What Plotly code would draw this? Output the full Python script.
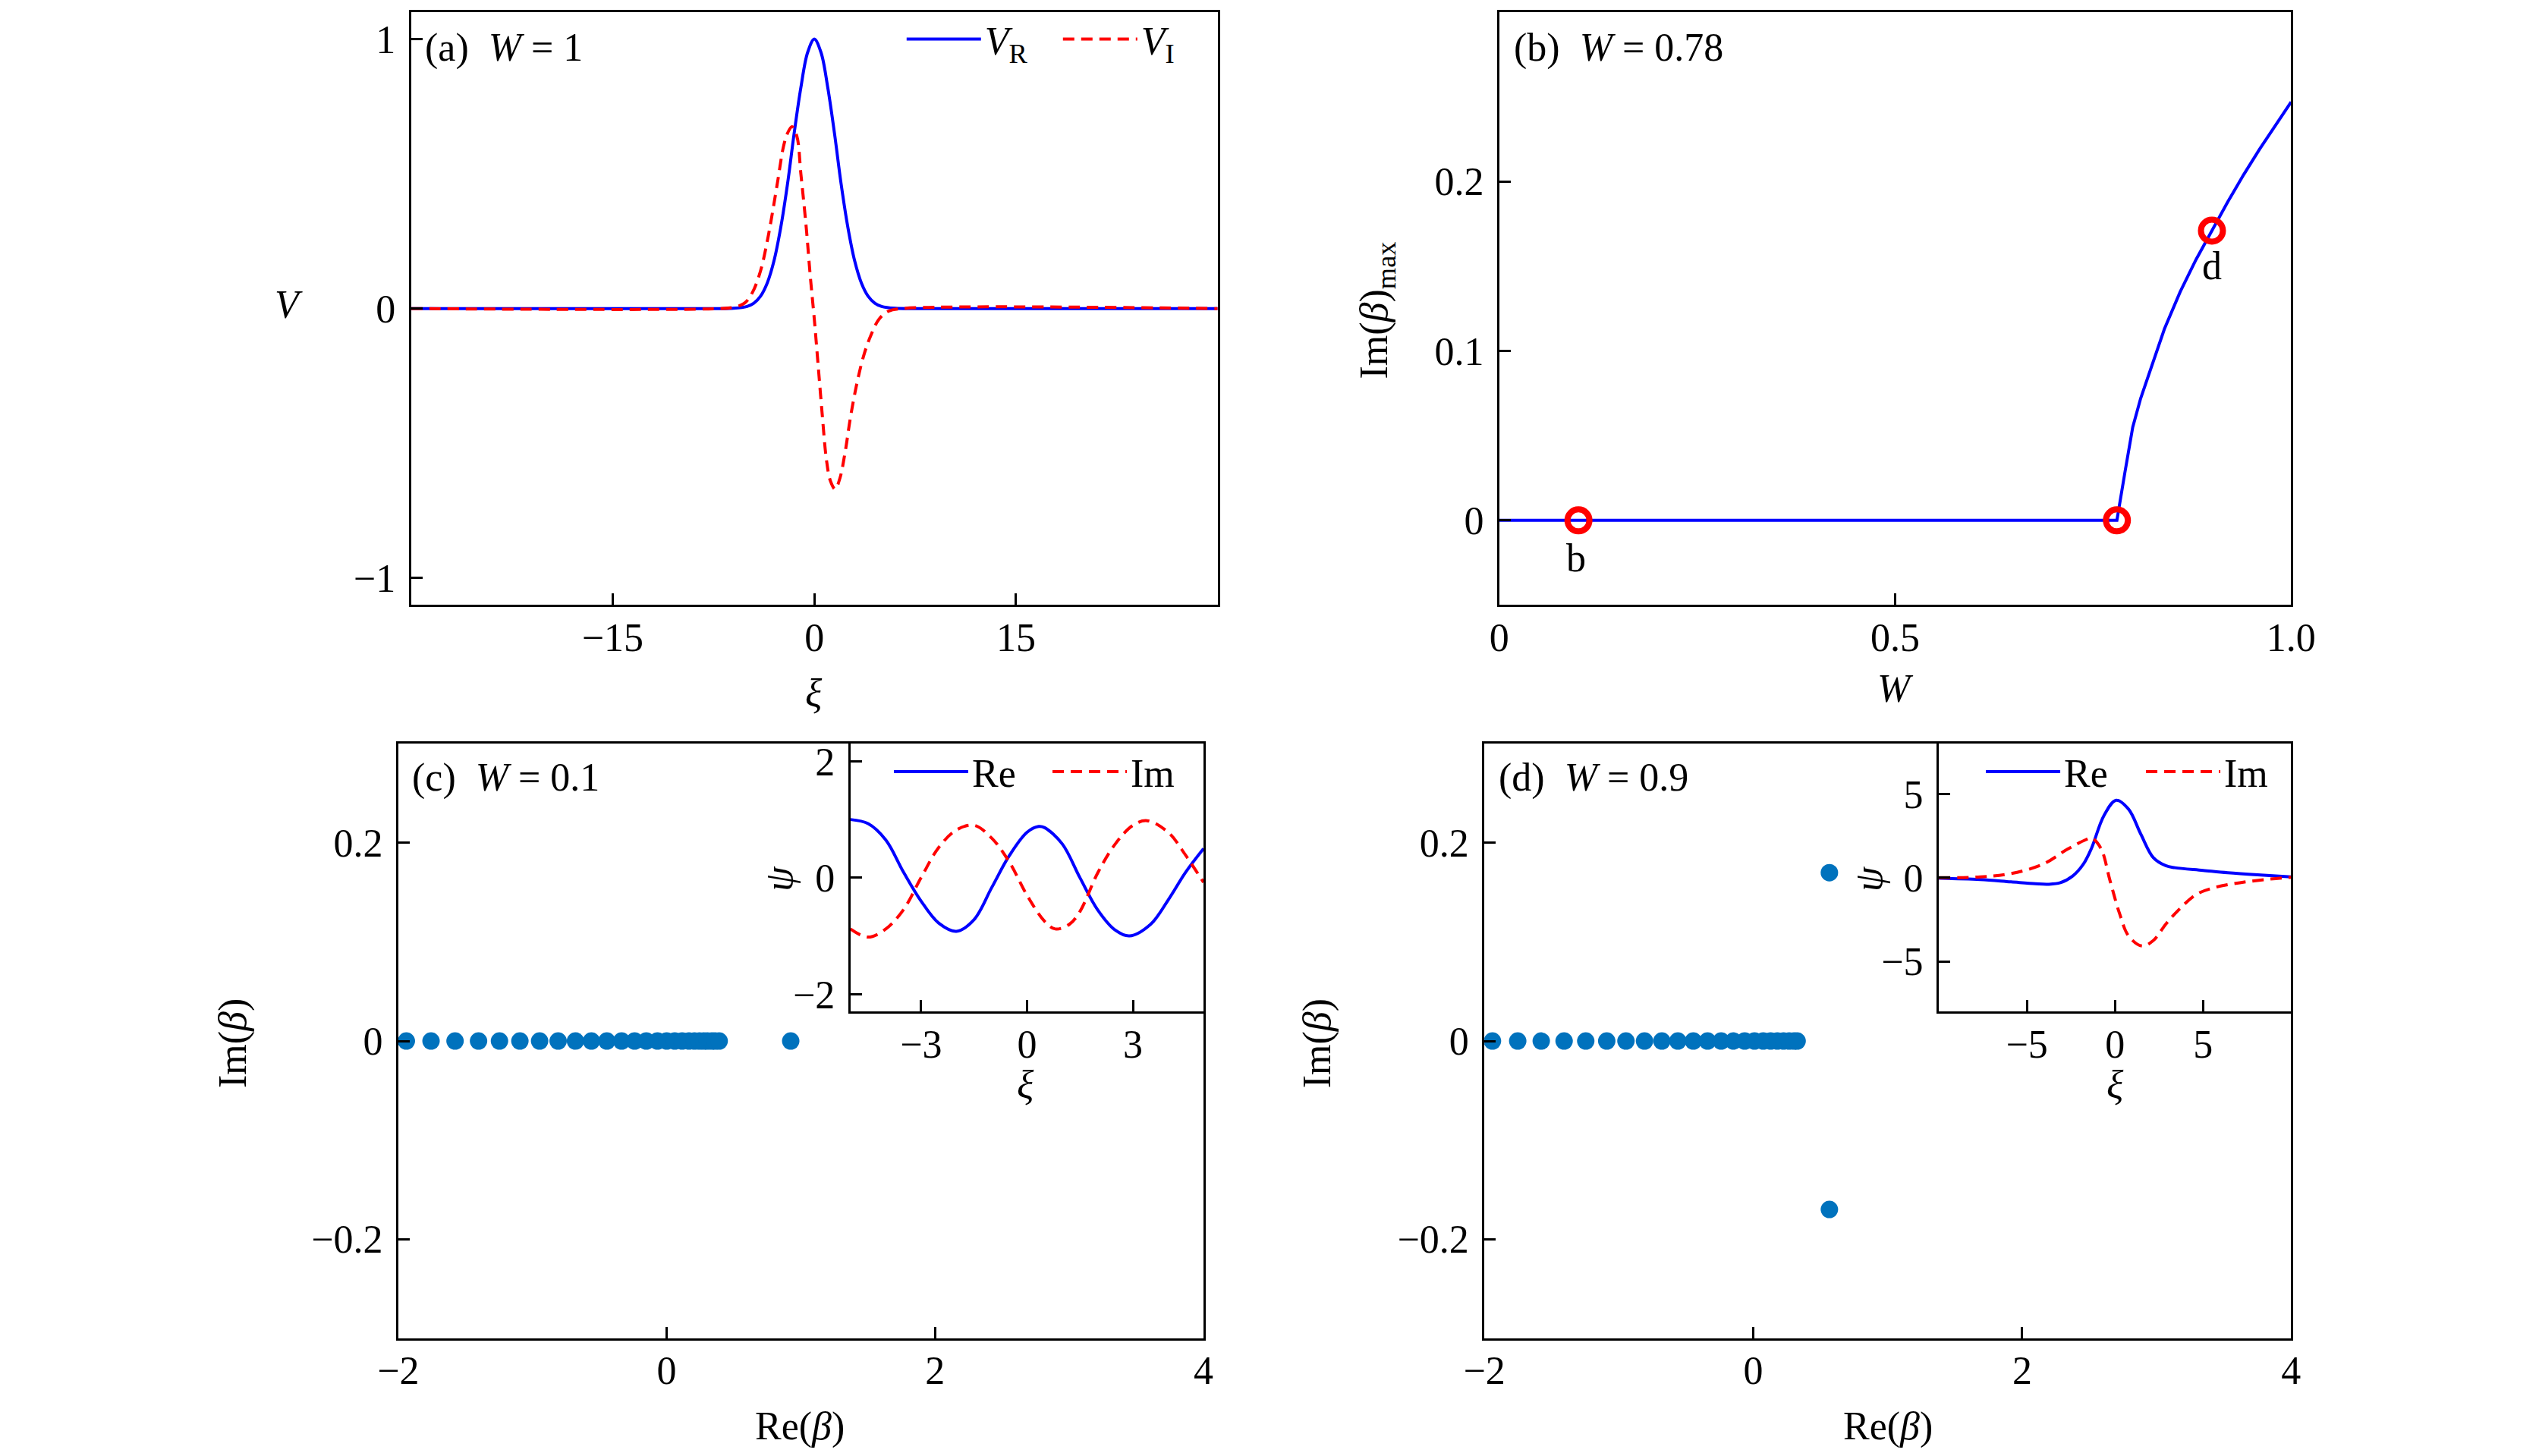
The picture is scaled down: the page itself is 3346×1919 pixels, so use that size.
import plotly.graph_objects as go

# the page body keeps its 8 px margin, so the figure is a little smaller than the window
OFF = 8
W_PX, H_PX = 3346 - 2 * OFF, 1919 - 2 * OFF
FONT = "Liberation Serif"
FS = 52
BLUE = "#0000FF"
RED = "#FF0000"
DOT = "#0072BD"
NB = "\u00a0"
LW = 4

# ---- panel (a): potential V(xi), W = 1
xi_vr = [-30, -8, -6, -5, -4.5, -4, -3.5, -3, -2.5, -2, -1.5, -1, -0.5, 0,
         0.5, 1, 1.5, 2, 2.5, 3, 3.5, 4, 4.5, 5, 6, 8, 30]
v_r = [0, 0, 0.001, 0.008, 0.02, 0.046, 0.095, 0.177, 0.30, 0.46, 0.65, 0.82, 0.95, 1.0,
       0.95, 0.82, 0.65, 0.46, 0.30, 0.177, 0.095, 0.046, 0.02, 0.008, 0.001, 0, 0]
xi_vi = [-30, -7, -6, -5.2, -4.6, -4.0, -3.5, -3.1, -2.7, -2.3, -2.0, -1.66, -1.3, -1.0,
         -0.6, -0.3, 0, 0.3, 0.6, 0.9, 1.2, 1.55, 1.9, 2.3, 2.7, 3.2, 3.7, 4.2, 4.8,
         5.5, 6.5, 30]
v_i = [0, 0, 0.005, 0.02, 0.06, 0.14, 0.25, 0.36, 0.48, 0.60, 0.65, 0.675, 0.64, 0.50,
       0.30, 0.12, -0.04, -0.22, -0.40, -0.56, -0.64, -0.67, -0.63, -0.53, -0.40, -0.27,
       -0.17, -0.10, -0.04, -0.01, 0, 0]

# ---- panel (b): Im(beta)_max versus W
w_b = [0, 0.1, 0.2, 0.3, 0.4, 0.5, 0.6, 0.7, 0.78, 0.79, 0.80, 0.81, 0.82, 0.84, 0.86,
       0.88, 0.90, 0.92, 0.94, 0.96, 0.98, 1.0]
im_b = [0, 0, 0, 0, 0, 0.0003, 0.0003, 0, 0, 0.028, 0.055, 0.072, 0.086, 0.113, 0.135,
        0.154, 0.171, 0.188, 0.204, 0.219, 0.233, 0.247]
w_mark = [0.1, 0.78, 0.9]
im_mark = [0, 0, 0.171]

# ---- panel (c): spectrum, W = 0.1
re_c = [-1.94, -1.756, -1.577, -1.402, -1.246, -1.094, -0.947, -0.809, -0.680, -0.561,
        -0.446, -0.336, -0.239, -0.152, -0.069, 0.0, 0.06, 0.115, 0.166, 0.207, 0.244,
        0.276, 0.303, 0.336, 0.36, 0.391, 0.924]
im_c = [0] * len(re_c)

# ---- panel (d): spectrum, W = 0.9
re_d = [-1.94, -1.752, -1.577, -1.407, -1.246, -1.090, -0.947, -0.809, -0.680, -0.561,
        -0.446, -0.340, -0.239, -0.147, -0.064, 0.009, 0.074, 0.129, 0.179, 0.225,
        0.267, 0.303, 0.326, 0.566, 0.566]
im_d = [0] * 23 + [0.170, -0.170]

# ---- inset (c): eigenmode psi
xi_c_re = [-5, -4.5, -4, -3.5, -3, -2.5, -2, -1.5, -1, -0.5, 0, 0.33, 0.5, 1, 1.5, 2,
           2.5, 2.9, 3.5, 4, 4.5, 5]
psi_c_re = [1.00, 0.93, 0.65, 0.10, -0.40, -0.78, -0.92, -0.72, -0.17, 0.38, 0.78, 0.88,
            0.86, 0.58, 0.0, -0.55, -0.90, -1.00, -0.80, -0.38, 0.10, 0.50]
xi_c_im = [-5, -4.5, -4, -3.5, -3, -2.5, -2, -1.5, -1, -0.5, 0, 0.5, 0.8, 1.2, 1.5, 2,
           2.5, 3, 3.4, 4, 4.5, 5]
psi_c_im = [-0.88, -1.02, -0.88, -0.55, 0.0, 0.52, 0.82, 0.90, 0.68, 0.27, -0.30, -0.75,
            -0.88, -0.80, -0.58, 0.08, 0.58, 0.90, 0.98, 0.78, 0.38, -0.08]

# ---- inset (d): eigenmode psi
xi_d_re = [-10, -7.65, -5.9, -4.5, -3.8, -3.1, -2.4, -1.8, -1.33, -0.63, 0.07, 0.77,
           1.47, 2.18, 2.88, 3.4, 5, 6.4, 8.1, 10]
psi_d_re = [-0.03, -0.11, -0.25, -0.36, -0.39, -0.30, 0.1, 0.8, 1.76, 3.7, 4.63, 4.1,
            2.6, 1.2, 0.72, 0.6, 0.44, 0.3, 0.17, 0.05]
xi_d_im = [-10, -7.65, -5.9, -4.1, -2.7, -1.68, -1.33, -0.8, -0.28, 0.25, 0.77, 1.54,
           2.18, 2.88, 3.58, 4.63, 5.68, 7.09, 8.5, 10]
psi_d_im = [0, 0.05, 0.25, 0.8, 1.7, 2.26, 2.37, 1.76, -0.17, -2.1, -3.47, -4.08, -3.75,
            -2.78, -1.96, -0.99, -0.58, -0.30, -0.11, 0.03]


def pxx(x):
    return (x - OFF) / W_PX


def pxy(y):
    return 1 - (y - OFF) / H_PX


def axis(dom, rng, vals, text, anchor, standoff):
    return dict(domain=dom, range=rng, tickvals=vals, ticktext=text, anchor=anchor,
                ticks="inside", ticklen=15, tickwidth=3, tickcolor="black",
                showline=True, linewidth=3, linecolor="black", mirror=True,
                showgrid=False, zeroline=False, ticklabelstandoff=standoff,
                tickfont=dict(family=FONT, size=FS, color="black"))


def xdom(x0, x1):
    return [pxx(x0), pxx(x1)]


def ydom(y_top, y_bot):
    return [pxy(y_bot), pxy(y_top)]


M = "\u2212"
fig = go.Figure()

line_kw = dict(mode="lines", line_shape="spline")
dash = "15px,9px"
fig.add_trace(go.Scatter(x=xi_vr, y=v_r, name="<i>V</i><sub>R</sub>", xaxis="x", yaxis="y",
                         line=dict(color=BLUE, width=LW), legend="legend", **line_kw))
fig.add_trace(go.Scatter(x=xi_vi, y=v_i, name="<i>V</i><sub>I</sub>", xaxis="x", yaxis="y",
                         line=dict(color=RED, width=LW, dash=dash), legend="legend",
                         **line_kw))

fig.add_trace(go.Scatter(x=w_b, y=im_b, mode="lines", xaxis="x2", yaxis="y2", showlegend=False,
                         line=dict(color=BLUE, width=LW)))
fig.add_trace(go.Scatter(x=w_mark, y=im_mark, mode="markers", xaxis="x2", yaxis="y2",
                         showlegend=False,
                         marker=dict(symbol="circle-open", size=29, color=RED,
                                     line=dict(width=8, color=RED))))

fig.add_trace(go.Scatter(x=re_c, y=im_c, mode="markers", xaxis="x3", yaxis="y3",
                         showlegend=False, marker=dict(size=23, color=DOT)))
fig.add_trace(go.Scatter(x=re_d, y=im_d, mode="markers", xaxis="x4", yaxis="y4",
                         showlegend=False, marker=dict(size=23, color=DOT)))

fig.add_trace(go.Scatter(x=xi_c_re, y=psi_c_re, name="Re", xaxis="x5", yaxis="y5",
                         line=dict(color=BLUE, width=LW), legend="legend2", **line_kw))
fig.add_trace(go.Scatter(x=xi_c_im, y=psi_c_im, name="Im", xaxis="x5", yaxis="y5",
                         line=dict(color=RED, width=LW, dash=dash), legend="legend2",
                         **line_kw))
fig.add_trace(go.Scatter(x=xi_d_re, y=psi_d_re, name="Re", xaxis="x6", yaxis="y6",
                         line=dict(color=BLUE, width=LW), legend="legend3", **line_kw))
fig.add_trace(go.Scatter(x=xi_d_im, y=psi_d_im, name="Im", xaxis="x6", yaxis="y6",
                         line=dict(color=RED, width=LW, dash=dash), legend="legend3",
                         **line_kw))

SX, SY = -5, 7
layout = dict(
    xaxis=axis(xdom(523, 1606), [-30, 30], [-15, 0, 15], [M + "15", "0", "15"], "y", SX),
    yaxis=axis(ydom(11, 797), [-1.1, 1.1], [-1, 0, 1], [M + "1", "0", "1"], "x", SY),
    xaxis2=axis(xdom(1984, 3047), [0, 1], [0, 0.5, 1], ["0", "0.5", "1.0"], "y2", SX),
    yaxis2=axis(ydom(11, 797), [-0.05, 0.3], [0, 0.1, 0.2], ["0", "0.1", "0.2"], "x2", SY),
    xaxis3=axis(xdom(506, 1587), [-2, 4], [-2, 0, 2, 4], [M + "2", "0", "2", "4"], "y3", SX),
    yaxis3=axis(ydom(981, 1769), [-0.3, 0.3], [-0.2, 0, 0.2], [M + "0.2", "0", "0.2"], "x3", SY),
    xaxis4=axis(xdom(1964, 3047), [-2, 4], [-2, 0, 2, 4], [M + "2", "0", "2", "4"], "y4", SX),
    yaxis4=axis(ydom(981, 1769), [-0.3, 0.3], [-0.2, 0, 0.2], [M + "0.2", "0", "0.2"], "x4", SY),
    xaxis5=axis(xdom(1113, 1587), [-5, 5], [-3, 0, 3], [M + "3", "0", "3"], "y5", SX),
    yaxis5=axis(ydom(981, 1336), [-2.3, 2.3], [-2, 0, 2], [M + "2", "0", "2"], "x5", SY),
    xaxis6=axis(xdom(2574, 3047), [-10, 10], [-5, 0, 5], [M + "5", "0", "5"], "y6", SX),
    yaxis6=axis(ydom(981, 1336), [-8, 8], [-5, 0, 5], [M + "5", "0", "5"], "x6", SY),
)


def legend_at(xr, yc, ew):
    return dict(x=pxx(xr), y=pxy(yc), xanchor="right", yanchor="middle", orientation="h",
                bgcolor="rgba(0,0,0,0)", itemwidth=98, entrywidth=ew,
                font=dict(family=FONT, size=FS, color="black"))


layout["legend"] = legend_at(1603, 47, 93)
layout["legend2"] = legend_at(1592, 1018, 96)
layout["legend3"] = legend_at(3062, 1018, 98)

labels = [
    ("(a)" + NB + NB + "<i>W</i> = 1", 540, 58, 0, "left"),
    ("(b)" + NB + NB + "<i>W</i> = 0.78", 2002, 58, 0, "left"),
    ("(c)" + NB + NB + "<i>W</i> = 0.1", 522, 1026, 0, "left"),
    ("(d)" + NB + NB + "<i>W</i> = 0.9", 1981, 1026, 0, "left"),
    ("<i>V</i>", 359, 399, 0, "center"),
    ("<i>ξ</i>", 1064, 914, 0, "center"),
    ("Im(<i>β</i>)<sub>max</sub>", 1820, 406, -90, "center"),
    ("<i>W</i>", 2516, 908, 0, "center"),
    ("Im(<i>β</i>)", 284, 1378, -90, "center"),
    ("Re(<i>β</i>)", 1045, 1886, 0, "center"),
    ("Im(<i>β</i>)", 1740, 1378, -90, "center"),
    ("Re(<i>β</i>)", 2506, 1886, 0, "center"),
    ("<i>ψ</i>", 1017, 1160, -90, "center"),
    ("<i>ξ</i>", 1348, 1433, 0, "center"),
    ("<i>ψ</i>", 2480, 1160, -90, "center"),
    ("<i>ξ</i>", 2811, 1433, 0, "center"),
]
annotations = []
for text, x, y, ang, anchor in labels:
    annotations.append(dict(text=text, x=pxx(x), y=pxy(y), xref="paper", yref="paper",
                            xanchor=anchor, yanchor="middle", textangle=ang,
                            showarrow=False, font=dict(family=FONT, size=FS, color="black")))

# point labels in panel (b)
annotations.append(dict(text="b", x=0.097, y=-0.0224, xref="x2", yref="y2", showarrow=False,
                        font=dict(family=FONT, size=FS, color="black")))
annotations.append(dict(text="d", x=0.900, y=0.150, xref="x2", yref="y2", showarrow=False,
                        font=dict(family=FONT, size=FS, color="black")))

fig.update_layout(width=W_PX, height=H_PX, margin=dict(l=0, r=0, t=0, b=0),
                  paper_bgcolor="white", plot_bgcolor="white",
                  annotations=annotations, **layout)

fig.write_html("out.html")
